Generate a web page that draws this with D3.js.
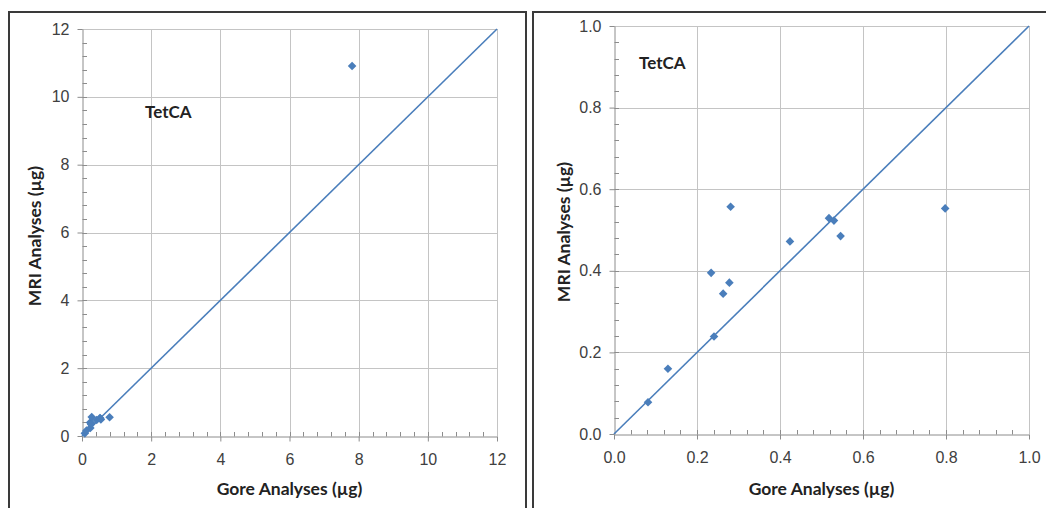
<!DOCTYPE html>
<html>
<head>
<meta charset="utf-8">
<script src="https://cdn.jsdelivr.net/npm/d3@7"></script>
<style>
  html, body { margin: 0; padding: 0; background: #fff; }
  svg { display: block; }
</style>
</head>
<body>
<svg id="chart" width="1046" height="508"></svg>
<script>
// Gore vs MRI paired TetCA analyses (µg)
const goreValues = [0.082, 0.130, 0.234, 0.241, 0.263, 0.278, 0.281, 0.424, 0.518, 0.530, 0.546, 0.798, 7.81];
const mriValues  = [0.078, 0.160, 0.395, 0.239, 0.344, 0.371, 0.557, 0.472, 0.529, 0.523, 0.485, 0.553, 10.91];

const fullTicks = [0, 2, 4, 6, 8, 10, 12];
const zoomTicks = [0, 0.2, 0.4, 0.6, 0.8, 1.0];
const fullMinorStep = 0.4;
const zoomMinorStep = 0.04;

const xTitle = "Gore Analyses (µg)";
const yTitle = "MRI Analyses (µg)";
const panelLabel = "TetCA";

const blue = "#4a7ebb";
const gridColor = "#c4c4c4";
const axisColor = "#8c8c8c";
const tickText = "#404040";
const titleFont = "Lato, 'Open Sans', sans-serif";

const svg = d3.select("#chart");

// panel frames
svg.append("path")
  .attr("d", "M9,508 V12 H526 V508")
  .attr("fill", "none").attr("stroke", "#3a3a3a").attr("stroke-width", 2);
svg.append("path")
  .attr("d", "M533,508 V12 H1046")
  .attr("fill", "none").attr("stroke", "#3a3a3a").attr("stroke-width", 2);

function drawPanel(cfg) {
  const g = svg.append("g");
  const max = cfg.ticks[cfg.ticks.length - 1];
  const x = d3.scaleLinear().domain([0, max]).range(cfg.xr);
  const y = d3.scaleLinear().domain([0, max]).range(cfg.yr);

  // gridlines
  g.append("g").selectAll("line").data(cfg.ticks.slice(1)).join("line")
    .attr("x1", d => Math.round(x(d)) + 0.5).attr("x2", d => Math.round(x(d)) + 0.5)
    .attr("y1", y(0)).attr("y2", y(max))
    .attr("stroke", gridColor).attr("stroke-width", 1);
  g.append("g").selectAll("line").data(cfg.ticks.slice(1)).join("line")
    .attr("x1", x(0)).attr("x2", x(max))
    .attr("y1", d => Math.round(y(d)) + 0.5).attr("y2", d => Math.round(y(d)) + 0.5)
    .attr("stroke", gridColor).attr("stroke-width", 1);

  // minor ticks (inside the plot area)
  const nMinor = Math.round(max / cfg.minor);
  const minors = d3.range(1, nMinor).map(i => i * cfg.minor);
  g.append("g").selectAll("line").data(minors).join("line")
    .attr("x1", d => Math.round(x(d)) + 0.5).attr("x2", d => Math.round(x(d)) + 0.5)
    .attr("y1", Math.round(y(0)) + 0.5).attr("y2", Math.round(y(0)) - 4)
    .attr("stroke", axisColor);
  g.append("g").selectAll("line").data(minors).join("line")
    .attr("x1", Math.round(x(0)) + 0.5).attr("x2", Math.round(x(0)) + 5)
    .attr("y1", d => Math.round(y(d)) + 0.5).attr("y2", d => Math.round(y(d)) + 0.5)
    .attr("stroke", axisColor);

  // axes
  const xAxis = d3.axisBottom(x).tickValues(cfg.ticks).tickFormat(cfg.fmt).tickSizeInner(5).tickSizeOuter(0).tickPadding(12);
  const yAxis = d3.axisLeft(y).tickValues(cfg.ticks).tickFormat(cfg.fmt).tickSizeInner(5).tickSizeOuter(0).tickPadding(8);
  const gx = g.append("g").attr("transform", `translate(0,${Math.round(y(0)) + 0.5})`).call(xAxis);
  const gy = g.append("g").attr("transform", `translate(${Math.round(x(0)) + 0.5},0)`).call(yAxis);
  [gx, gy].forEach(a => {
    a.attr("font-size", null).attr("font-family", null);
    a.select(".domain").attr("stroke", axisColor);
    a.selectAll(".tick line").attr("stroke", axisColor);
    a.selectAll(".tick text")
      .attr("fill", tickText)
      .style("font-family", "'Liberation Sans', Arial, sans-serif")
      .style("font-size", "16px");
  });

  // 1:1 reference line
  g.append("line")
    .attr("x1", x(0)).attr("y1", y(0)).attr("x2", x(max)).attr("y2", y(max))
    .attr("stroke", blue).attr("stroke-width", 1.6);

  // points inside the plotting range
  const pts = goreValues.map((v, i) => [v, mriValues[i]]).filter(d => d[0] <= max && d[1] <= max);
  const r = 4.3;
  g.append("g").selectAll("path").data(pts).join("path")
    .attr("d", d => {
      const cx = x(d[0]), cy = y(d[1]);
      return `M${cx},${cy - r}L${cx + r},${cy}L${cx},${cy + r}L${cx - r},${cy}Z`;
    })
    .attr("fill", blue);

  // titles
  g.append("text")
    .attr("x", (cfg.xr[0] + cfg.xr[1]) / 2).attr("y", cfg.xTitleY)
    .attr("text-anchor", "middle")
    .style("font-family", titleFont).style("font-weight", 700).style("font-size", "17.5px")
    .attr("fill", "#222").text(xTitle);
  g.append("text")
    .attr("transform", `translate(${cfg.yTitleX},${cfg.yTitleY}) rotate(-90)`)
    .attr("text-anchor", "middle")
    .style("font-family", titleFont).style("font-weight", 700).style("font-size", "17.5px")
    .attr("fill", "#222").text(yTitle);
  g.append("text")
    .attr("x", cfg.labelX).attr("y", cfg.labelY)
    .style("font-family", titleFont).style("font-weight", 700).style("font-size", "17px")
    .attr("fill", "#222").text(panelLabel);
}

drawPanel({
  ticks: fullTicks, minor: fullMinorStep, fmt: d3.format("d"),
  xr: [82, 497], yr: [436, 29],
  xTitleY: 495, yTitleX: 41, yTitleY: 236,
  labelX: 145, labelY: 118
});
drawPanel({
  ticks: zoomTicks, minor: zoomMinorStep, fmt: d3.format(".1f"),
  xr: [614, 1029], yr: [434, 26],
  xTitleY: 495, yTitleX: 570, yTitleY: 232,
  labelX: 639, labelY: 69
});
</script>
</body>
</html>
